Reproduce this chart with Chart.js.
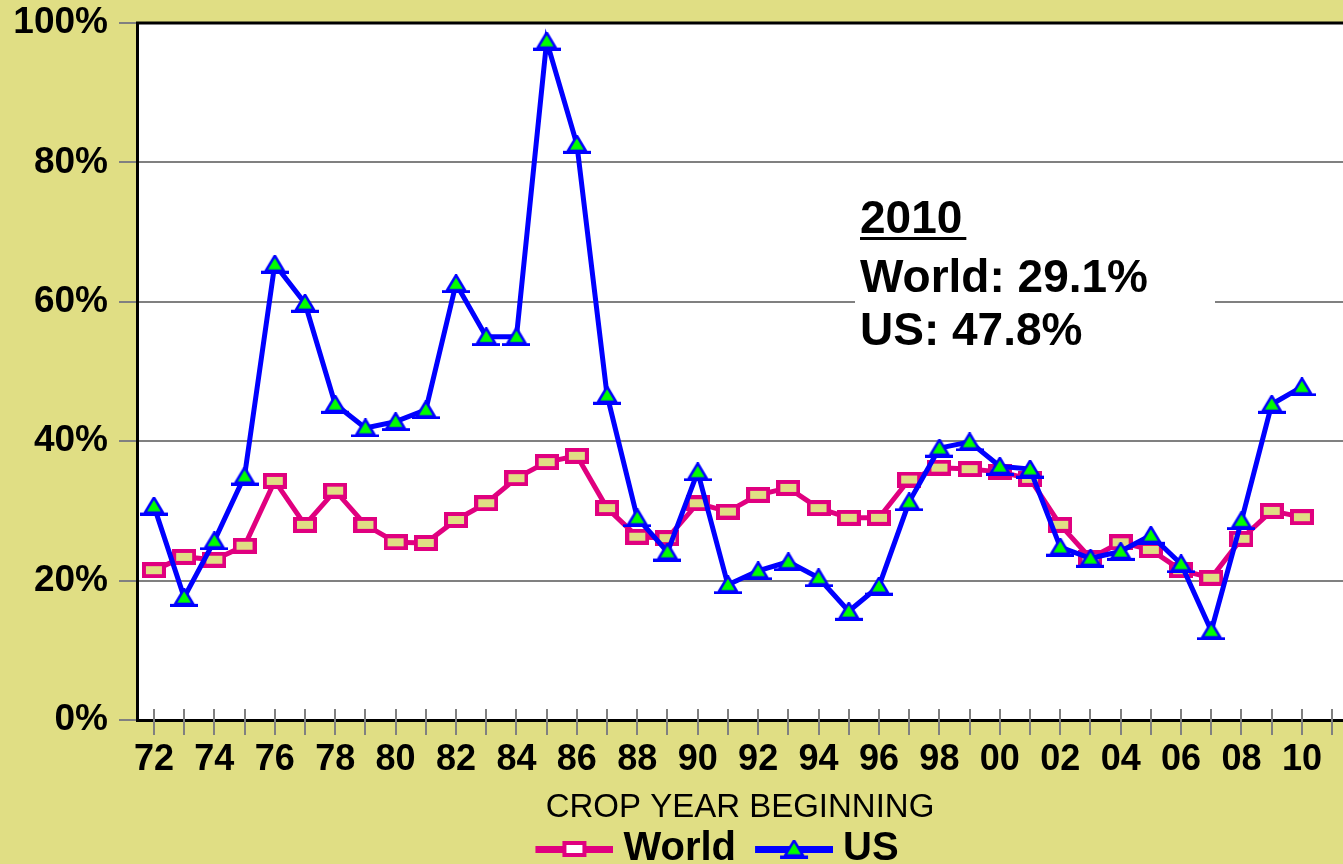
<!DOCTYPE html>
<html>
<head>
<meta charset="utf-8">
<script src="https://cdn.jsdelivr.net/npm/chart.js@4.4.0/dist/chart.umd.min.js"></script>
<style>
  html, body { margin: 0; padding: 0; background: #E0DE84; }
  #wrap { width: 1343px; height: 864px; position: relative; }
</style>
</head>
<body>
<div id="wrap"><canvas id="chart"></canvas></div>
<script>
// crop years 1972..2010
const years = ['72', '73', '74', '75', '76', '77', '78', '79', '80', '81',
  '82', '83', '84', '85', '86', '87', '88', '89', '90', '91',
  '92', '93', '94', '95', '96', '97', '98', '99', '00', '01',
  '02', '03', '04', '05', '06', '07', '08', '09', '10'];

// ending stocks / use, percent
const world = [21.5, 23.4, 23.0, 25.0, 34.3, 28.0, 32.9, 28.0, 25.5, 25.4,
  28.7, 31.1, 34.7, 37.0, 37.9, 30.4, 26.3, 26.1, 31.1, 29.9,
  32.3, 33.3, 30.4, 29.0, 29.0, 34.5, 36.2, 36.0, 35.6, 34.6,
  28.0, 23.2, 25.5, 24.4, 21.5, 20.4, 26.0, 30.0, 29.1];
const us = [30.7, 17.6, 25.7, 35.0, 65.4, 59.8, 45.3, 41.9, 42.8, 44.5,
  62.6, 55.0, 55.0, 97.4, 82.6, 46.6, 29.0, 24.1, 35.6, 19.4,
  21.4, 22.7, 20.4, 15.6, 19.2, 31.3, 39.0, 39.9, 36.4, 36.0,
  24.8, 23.2, 24.2, 26.5, 22.4, 12.8, 28.6, 45.3, 47.8];

const yTicks = [0, 20, 40, 60, 80, 100];
const noteLines = ['2010', 'World: 29.1%', 'US: 47.8%'];

const KHAKI = '#E0DE84';
const PINK = '#E0007F';
const BLUE = '#0000FF';
const GREEN = '#00FF00';
const GRID = '#808080';
const FONT = "'Liberation Sans', Arial, sans-serif";

// marker images
function rectMarker(fill) {
  const c = document.createElement('canvas');
  c.width = 24; c.height = 16;
  const g = c.getContext('2d');
  g.fillStyle = PINK; g.fillRect(0, 0, 24, 16);
  g.fillStyle = fill; g.fillRect(4, 4, 16, 8);
  return c;
}
function triMarker() {
  const c = document.createElement('canvas');
  c.width = 28; c.height = 19;
  const g = c.getContext('2d');
  g.beginPath();
  g.moveTo(14, 1); g.lineTo(23, 16); g.lineTo(5, 16); g.closePath();
  g.fillStyle = GREEN; g.fill();
  g.lineWidth = 2.5; g.strokeStyle = BLUE; g.stroke();
  g.fillStyle = BLUE; g.fillRect(0, 16, 28, 3);
  return c;
}
// legend sample: transparent lead on the left, then line + marker
function legendIcon(color, marker) {
  const lead = 19, len = 78;
  const c = document.createElement('canvas');
  c.width = lead + len; c.height = 24;
  const g = c.getContext('2d');
  g.fillStyle = color;
  g.fillRect(lead, 9, len, 7);
  g.drawImage(marker, lead + len / 2 - marker.width / 2, 12 - marker.height / 2);
  return c;
}

const worldPt = rectMarker(KHAKI);
const usPt = triMarker();
const legendIcons = [legendIcon(PINK, rectMarker('#FFFFFF')), legendIcon(BLUE, triMarker())];

const paper = {
  id: 'paper',
  beforeDraw(chart) {
    const { ctx, chartArea: a } = chart;
    ctx.save();
    ctx.fillStyle = KHAKI;
    ctx.fillRect(0, 0, chart.width, chart.height);
    ctx.fillStyle = '#FFFFFF';
    ctx.fillRect(a.left, a.top, a.right - a.left, a.bottom - a.top);
    ctx.restore();
  },
  afterLayout(chart) {
    chart.legend.left += 41;
    chart.legend.right += 41;
  },
  beforeDatasetsDraw(chart) {
    const { ctx, chartArea: a, scales: { x } } = chart;
    ctx.save();
    // note box over the grid
    const nx = a.left + 723;
    ctx.fillStyle = '#FFFFFF';
    ctx.fillRect(a.left + 718, a.top + 168, 360, 170);
    ctx.fillStyle = '#000';
    ctx.font = 'bold 46px ' + FONT;
    ctx.textBaseline = 'alphabetic';
    ctx.textAlign = 'left';
    const base = [210, 269, 322];
    noteLines.forEach((t, i) => ctx.fillText(t, nx, a.top + base[i]));
    const w = ctx.measureText(noteLines[0]).width;
    ctx.fillRect(nx, a.top + base[0] + 4, w + 4, 3);
    // x tick marks crossing the axis
    ctx.strokeStyle = GRID;
    ctx.lineWidth = 2;
    x.ticks.forEach((t, i) => {
      const px = Math.round(x.getPixelForTick(i));
      ctx.beginPath();
      ctx.moveTo(px, a.bottom - 11);
      ctx.lineTo(px, a.bottom + 15);
      ctx.stroke();
    });
    // top frame line
    ctx.strokeStyle = '#000';
    ctx.lineWidth = 3;
    ctx.beginPath();
    ctx.moveTo(a.left - 1, a.top);
    ctx.lineTo(a.right, a.top);
    ctx.stroke();
    ctx.restore();
  }
};

new Chart(document.getElementById('chart'), {
  type: 'line',
  data: {
    datasets: [
      {
        label: 'World',
        data: world.map((v, i) => ({ x: i, y: v })),
        borderColor: PINK,
        borderWidth: 5,
        pointStyle: worldPt,
        pointRadius: 8,
        order: 1,
        tension: 0
      },
      {
        label: 'US',
        data: us.map((v, i) => ({ x: i, y: v })),
        borderColor: BLUE,
        borderWidth: 5,
        pointStyle: usPt,
        pointRadius: 8,
        order: 0,
        tension: 0
      }
    ]
  },
  options: {
    responsive: true,
    maintainAspectRatio: false,
    animation: false,
    layout: { autoPadding: false, padding: { top: 23, right: 0, bottom: -15, left: 0 } },
    scales: {
      x: {
        type: 'linear',
        min: -0.56,
        max: 39.36,
        afterBuildTicks: s => { s.ticks = years.concat(['']).map((_, i) => ({ value: i })); },
        afterFit: s => { s.height = 99; },
        grid: { display: false, drawTicks: true, tickLength: 15 },
        border: { color: '#000', width: 3 },
        ticks: {
          autoSkip: false,
          maxRotation: 0,
          padding: 7,
          color: '#000',
          font: { family: FONT, size: 36, weight: 'bold', lineHeight: 1 },
          callback: v => (v % 2 === 0 && years[v] !== undefined) ? years[v] : ''
        },
        title: {
          display: true,
          text: 'CROP YEAR BEGINNING',
          color: '#000',
          font: { family: FONT, size: 33, lineHeight: 1 },
          padding: { top: 0, bottom: -5 }
        }
      },
      y: {
        min: 0,
        max: 100,
        afterBuildTicks: s => { s.ticks = yTicks.map(v => ({ value: v })); },
        afterFit: s => { s.width = 137; },
        grid: { color: GRID, lineWidth: 2, tickLength: 18 },
        border: { color: '#000', width: 3 },
        ticks: {
          padding: 11,
          color: '#000',
          font: { family: FONT, size: 37, weight: 'bold', lineHeight: 0.6 },
          callback: v => v + '%'
        }
      }
    },
    plugins: {
      tooltip: { enabled: false },
      legend: {
        position: 'bottom',
        labels: {
          usePointStyle: true,
          pointStyleWidth: 77,
          padding: 10,
          color: '#000',
          font: { family: FONT, size: 40, weight: 'bold', lineHeight: 1 },
          sort: (a, b) => a.datasetIndex - b.datasetIndex,
          generateLabels: chart => chart.data.datasets.map((ds, i) => ({
            text: ds.label,
            pointStyle: legendIcons[i],
            datasetIndex: i,
            fontColor: '#000',
            fillStyle: 'transparent',
            strokeStyle: 'transparent',
            lineWidth: 0,
            hidden: false
          }))
        }
      }
    }
  },
  plugins: [paper]
});
</script>
</body>
</html>
